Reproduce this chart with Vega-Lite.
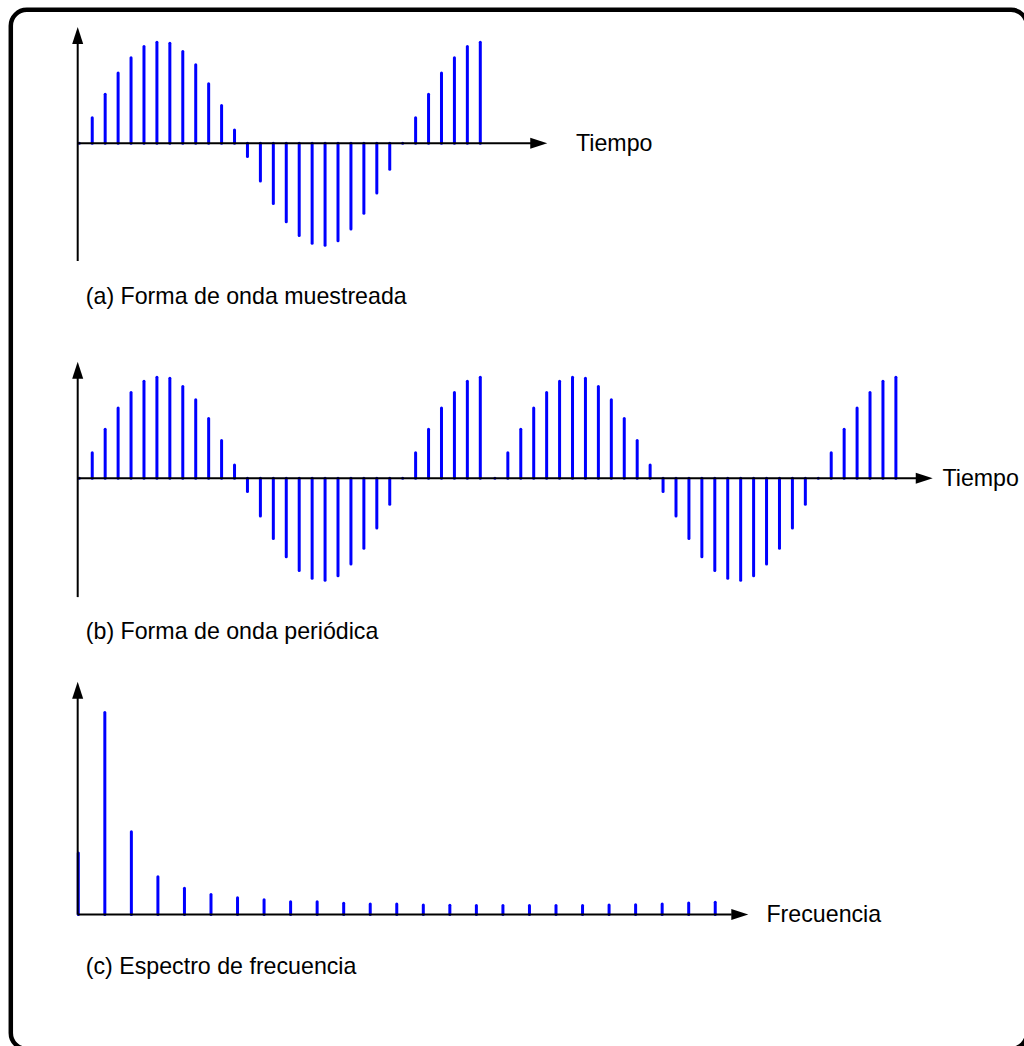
{
  "$schema": "https://vega.github.io/schema/vega-lite/v6.json",
  "width": 1024,
  "height": 1046,
  "autosize": {"type": "none"},
  "padding": 0,
  "background": "white",
  "config": {"view": {"stroke": null}, "text": {"font": "Liberation Sans", "fontSize": 23.2, "color": "black"}},
  "datasets": {
    "sampled": [
      {"t": 0, "v": 0}, {"t": 1, "v": 0.25}, {"t": 2, "v": 0.48}, {"t": 3, "v": 0.69}, {"t": 4, "v": 0.84},
      {"t": 5, "v": 0.95}, {"t": 6, "v": 0.99}, {"t": 7, "v": 0.98}, {"t": 8, "v": 0.9}, {"t": 9, "v": 0.77},
      {"t": 10, "v": 0.585}, {"t": 11, "v": 0.37}, {"t": 12, "v": 0.13}, {"t": 13, "v": -0.13}, {"t": 14, "v": -0.37},
      {"t": 15, "v": -0.59}, {"t": 16, "v": -0.77}, {"t": 17, "v": -0.905}, {"t": 18, "v": -0.98}, {"t": 19, "v": -1.0},
      {"t": 20, "v": -0.955}, {"t": 21, "v": -0.84}, {"t": 22, "v": -0.686}, {"t": 23, "v": -0.487}, {"t": 24, "v": -0.255},
      {"t": 25, "v": 0}, {"t": 26, "v": 0.25}, {"t": 27, "v": 0.48}, {"t": 28, "v": 0.69}, {"t": 29, "v": 0.84},
      {"t": 30, "v": 0.95}, {"t": 31, "v": 0.99}
    ],
    "periodic": [
      {"t": 0, "v": 0}, {"t": 1, "v": 0.25}, {"t": 2, "v": 0.48}, {"t": 3, "v": 0.69}, {"t": 4, "v": 0.84},
      {"t": 5, "v": 0.95}, {"t": 6, "v": 0.99}, {"t": 7, "v": 0.98}, {"t": 8, "v": 0.9}, {"t": 9, "v": 0.77},
      {"t": 10, "v": 0.585}, {"t": 11, "v": 0.37}, {"t": 12, "v": 0.13}, {"t": 13, "v": -0.13}, {"t": 14, "v": -0.37},
      {"t": 15, "v": -0.59}, {"t": 16, "v": -0.77}, {"t": 17, "v": -0.905}, {"t": 18, "v": -0.98}, {"t": 19, "v": -1.0},
      {"t": 20, "v": -0.955}, {"t": 21, "v": -0.84}, {"t": 22, "v": -0.686}, {"t": 23, "v": -0.487}, {"t": 24, "v": -0.255},
      {"t": 25, "v": 0}, {"t": 26, "v": 0.25}, {"t": 27, "v": 0.48}, {"t": 28, "v": 0.69}, {"t": 29, "v": 0.84},
      {"t": 30, "v": 0.95}, {"t": 31, "v": 0.99},
      {"t": 32.13, "v": 0}, {"t": 33.13, "v": 0.25}, {"t": 34.13, "v": 0.48}, {"t": 35.13, "v": 0.69}, {"t": 36.13, "v": 0.84},
      {"t": 37.13, "v": 0.95}, {"t": 38.13, "v": 0.99}, {"t": 39.13, "v": 0.98}, {"t": 40.13, "v": 0.9}, {"t": 41.13, "v": 0.77},
      {"t": 42.13, "v": 0.585}, {"t": 43.13, "v": 0.37}, {"t": 44.13, "v": 0.13}, {"t": 45.13, "v": -0.13}, {"t": 46.13, "v": -0.37},
      {"t": 47.13, "v": -0.59}, {"t": 48.13, "v": -0.77}, {"t": 49.13, "v": -0.905}, {"t": 50.13, "v": -0.98}, {"t": 51.13, "v": -1.0},
      {"t": 52.13, "v": -0.955}, {"t": 53.13, "v": -0.84}, {"t": 54.13, "v": -0.686}, {"t": 55.13, "v": -0.487}, {"t": 56.13, "v": -0.255},
      {"t": 57.13, "v": 0}, {"t": 58.13, "v": 0.25}, {"t": 59.13, "v": 0.48}, {"t": 60.13, "v": 0.69}, {"t": 61.13, "v": 0.84},
      {"t": 62.13, "v": 0.95}, {"t": 63.13, "v": 0.99}
    ],
    "spectrum": [
      {"k": 0, "m": 0.305}, {"k": 1, "m": 1.0}, {"k": 2, "m": 0.41}, {"k": 3, "m": 0.187}, {"k": 4, "m": 0.13},
      {"k": 5, "m": 0.1}, {"k": 6, "m": 0.083}, {"k": 7, "m": 0.074}, {"k": 8, "m": 0.064}, {"k": 9, "m": 0.063},
      {"k": 10, "m": 0.056}, {"k": 11, "m": 0.053}, {"k": 12, "m": 0.052}, {"k": 13, "m": 0.047}, {"k": 14, "m": 0.046},
      {"k": 15, "m": 0.045}, {"k": 16, "m": 0.045}, {"k": 17, "m": 0.045}, {"k": 18, "m": 0.045}, {"k": 19, "m": 0.045},
      {"k": 20, "m": 0.048}, {"k": 21, "m": 0.049}, {"k": 22, "m": 0.053}, {"k": 23, "m": 0.058}, {"k": 24, "m": 0.061}
    ]
  },
  "layer": [
    {
      "layer": [
        {
          "data": {"name": "sampled"},
          "mark": {"type": "rule", "color": "#0000ff", "strokeWidth": 3, "strokeCap": "round"},
          "encoding": {
            "x": {"field": "t", "type": "quantitative", "scale": {"domain": [-6.131, 73.034], "nice": false, "zero": false}, "axis": null},
            "y": {"field": "v", "type": "quantitative", "scale": {"domain": [-8.85, 1.405], "nice": false, "zero": false}, "axis": null},
            "y2": {"datum": 0}
          }
        },
        {
          "data": {"values": [{"part": "x-axis"}]},
          "mark": {"type": "rule", "color": "black", "strokeWidth": 2},
          "encoding": {"x": {"datum": -0.124}, "x2": {"datum": 34.95}, "y": {"datum": 0}}
        },
        {
          "data": {"values": [{"part": "y-axis"}]},
          "mark": {"type": "rule", "color": "black", "strokeWidth": 2},
          "encoding": {"x": {"datum": -0.124}, "y": {"datum": -1.154}, "y2": {"datum": 0.99}}
        },
        {
          "data": {"values": [{"part": "x-arrow"}]},
          "mark": {"type": "point", "shape": "M-1,-0.65L1,0L-1,0.65Z", "size": 289, "filled": true, "color": "black", "opacity": 1, "strokeWidth": 0},
          "encoding": {"x": {"datum": 35.52}, "y": {"datum": 0}}
        },
        {
          "data": {"values": [{"part": "y-arrow"}]},
          "mark": {"type": "point", "shape": "M-0.65,1L0,-1L0.65,1Z", "size": 289, "filled": true, "color": "black", "opacity": 1, "strokeWidth": 0},
          "encoding": {"x": {"datum": -0.124}, "y": {"datum": 1.058}}
        },
        {
          "data": {"values": [{"label": "Tiempo"}]},
          "mark": {"type": "text", "align": "left", "baseline": "alphabetic"},
          "encoding": {"x": {"datum": 38.4}, "y": {"datum": -0.0725}, "text": {"field": "label"}}
        },
        {
          "data": {"values": [{"label": "(a) Forma de onda muestreada"}]},
          "mark": {"type": "text", "align": "left", "baseline": "alphabetic"},
          "encoding": {"x": {"datum": 0.5}, "y": {"datum": -1.573}, "text": {"field": "label"}}
        },
        {
          "data": {"values": [{"part": "frame"}]},
          "mark": {"type": "rect", "filled": false, "color": "black", "strokeWidth": 4.5, "cornerRadius": 16},
          "encoding": {"x": {"datum": -5.296}, "x2": {"datum": 73.27}, "y": {"datum": 1.309}, "y2": {"datum": -8.879}}
        }
      ]
    },
    {
      "layer": [
        {
          "data": {"name": "periodic"},
          "mark": {"type": "rule", "color": "#0000ff", "strokeWidth": 3, "strokeCap": "round"},
          "encoding": {
            "x": {"field": "t", "type": "quantitative", "scale": {"domain": [-6.131, 73.034], "nice": false, "zero": false}, "axis": null},
            "y": {"field": "v", "type": "quantitative", "scale": {"domain": [-5.566, 4.689], "nice": false, "zero": false}, "axis": null},
            "y2": {"datum": 0}
          }
        },
        {
          "data": {"values": [{"part": "x-axis"}]},
          "mark": {"type": "rule", "color": "black", "strokeWidth": 2},
          "encoding": {"x": {"datum": -0.124}, "x2": {"datum": 64.7}, "y": {"datum": 0}}
        },
        {
          "data": {"values": [{"part": "y-axis"}]},
          "mark": {"type": "rule", "color": "black", "strokeWidth": 2},
          "encoding": {"x": {"datum": -0.124}, "y": {"datum": -1.165}, "y2": {"datum": 0.99}}
        },
        {
          "data": {"values": [{"part": "x-arrow"}]},
          "mark": {"type": "point", "shape": "M-1,-0.65L1,0L-1,0.65Z", "size": 289, "filled": true, "color": "black", "opacity": 1, "strokeWidth": 0},
          "encoding": {"x": {"datum": 65.32}, "y": {"datum": 0}}
        },
        {
          "data": {"values": [{"part": "y-arrow"}]},
          "mark": {"type": "point", "shape": "M-0.65,1L0,-1L0.65,1Z", "size": 289, "filled": true, "color": "black", "opacity": 1, "strokeWidth": 0},
          "encoding": {"x": {"datum": -0.124}, "y": {"datum": 1.058}}
        },
        {
          "data": {"values": [{"label": "Tiempo"}]},
          "mark": {"type": "text", "align": "left", "baseline": "alphabetic"},
          "encoding": {"x": {"datum": 66.73}, "y": {"datum": -0.0725}, "text": {"field": "label"}}
        },
        {
          "data": {"values": [{"label": "(b) Forma de onda periódica"}]},
          "mark": {"type": "text", "align": "left", "baseline": "alphabetic"},
          "encoding": {"x": {"datum": 0.5}, "y": {"datum": -1.573}, "text": {"field": "label"}}
        }
      ]
    },
    {
      "layer": [
        {
          "data": {"name": "spectrum"},
          "mark": {"type": "rule", "color": "#0000ff", "strokeWidth": 3, "strokeCap": "round"},
          "encoding": {
            "x": {"field": "k", "type": "quantitative", "scale": {"domain": [-2.95, 35.634], "nice": false, "zero": false}, "axis": null},
            "y": {"field": "m", "type": "quantitative", "scale": {"domain": [-0.6505, 4.5277], "nice": false, "zero": false}, "axis": null},
            "y2": {"datum": 0}
          }
        },
        {
          "data": {"values": [{"part": "x-axis"}]},
          "mark": {"type": "rule", "color": "black", "strokeWidth": 2},
          "encoding": {"x": {"datum": -0.023}, "x2": {"datum": 24.62}, "y": {"datum": 0}}
        },
        {
          "data": {"values": [{"part": "y-axis"}]},
          "mark": {"type": "rule", "color": "black", "strokeWidth": 2},
          "encoding": {"x": {"datum": -0.023}, "y": {"datum": 0}, "y2": {"datum": 1.075}}
        },
        {
          "data": {"values": [{"part": "x-arrow"}]},
          "mark": {"type": "point", "shape": "M-1,-0.65L1,0L-1,0.65Z", "size": 289, "filled": true, "color": "black", "opacity": 1, "strokeWidth": 0},
          "encoding": {"x": {"datum": 24.925}, "y": {"datum": 0}}
        },
        {
          "data": {"values": [{"part": "y-arrow"}]},
          "mark": {"type": "point", "shape": "M-0.65,1L0,-1L0.65,1Z", "size": 289, "filled": true, "color": "black", "opacity": 1, "strokeWidth": 0},
          "encoding": {"x": {"datum": -0.023}, "y": {"datum": 1.111}}
        },
        {
          "data": {"values": [{"label": "Frecuencia"}]},
          "mark": {"type": "text", "align": "left", "baseline": "alphabetic"},
          "encoding": {"x": {"datum": 25.93}, "y": {"datum": -0.038}, "text": {"field": "label"}}
        },
        {
          "data": {"values": [{"label": "(c) Espectro de frecuencia"}]},
          "mark": {"type": "text", "align": "left", "baseline": "alphabetic"},
          "encoding": {"x": {"datum": 0.282}, "y": {"datum": -0.2926}, "text": {"field": "label"}}
        }
      ]
    }
  ],
  "resolve": {"scale": {"x": "independent", "y": "independent"}}
}
